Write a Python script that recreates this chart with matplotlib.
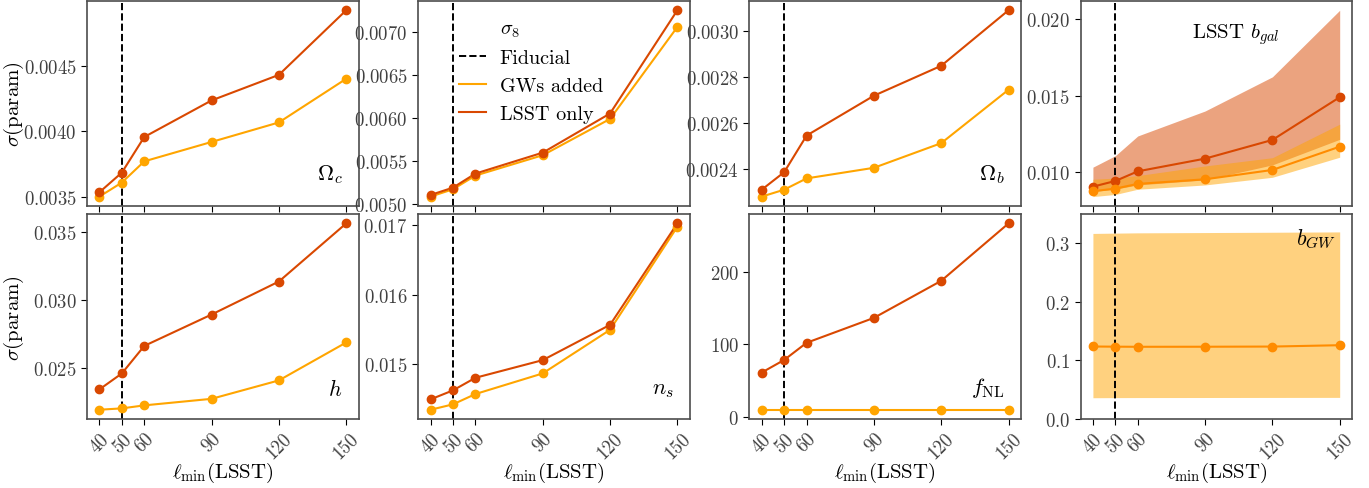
import numpy as np
import matplotlib
matplotlib.use("Agg")
import matplotlib.pyplot as plt

plt.rcParams['font.family'] = 'serif'
plt.rcParams['font.serif'] = ['cmr10']
plt.rcParams['mathtext.fontset'] = 'cm'
plt.rcParams['axes.formatter.use_mathtext'] = True

# l_min values of LSST
lmin = [40, 50, 60, 90, 120, 150]
xtick_labels = ['40', '50', '60', '90', '120', '150']
lfid = 50

# sigma(param)
omc_lsst = [0.003535, 0.003685, 0.003957, 0.004236, 0.004431, 0.004924]
omc_gw = [0.003502, 0.003609, 0.003771, 0.003919, 0.004068, 0.004401]
s8_lsst = [0.005104, 0.005189, 0.005352, 0.005595, 0.006049, 0.007247]
s8_gw = [0.005085, 0.005170, 0.005329, 0.005565, 0.005986, 0.007053]
omb_lsst = [0.002309, 0.002385, 0.002544, 0.002717, 0.002847, 0.003088]
omb_gw = [0.002279, 0.002309, 0.002358, 0.002404, 0.002511, 0.002743]
h_lsst = [0.02344, 0.02461, 0.02663, 0.02893, 0.03135, 0.03561]
h_gw = [0.02195, 0.02205, 0.02227, 0.02275, 0.02410, 0.02688]
ns_lsst = [0.014486, 0.014616, 0.014798, 0.015053, 0.015563, 0.017029]
ns_gw = [0.014336, 0.014414, 0.014563, 0.014861, 0.015491, 0.016981]
fnl_lsst = [60.9, 78.3, 102.0, 136.4, 187.6, 266.9]
fnl_gw = [9.5, 9.5, 9.5, 9.5, 9.5, 9.5]

# galaxy bias: line + band (min/max over bins)
bgal_lsst = [0.00906, 0.00943, 0.01006, 0.01089, 0.01211, 0.01490]
bgal_lsst_lo = [0.00874, 0.00890, 0.00917, 0.00950, 0.01048, 0.01215]
bgal_lsst_hi = [0.01033, 0.01108, 0.01237, 0.01400, 0.01623, 0.02058]
bgal_gw = [0.00876, 0.00893, 0.00924, 0.00954, 0.01015, 0.01167]
bgal_gw_lo = [0.00841, 0.00855, 0.00889, 0.00917, 0.00967, 0.01098]
bgal_gw_hi = [0.00954, 0.00962, 0.00978, 0.01041, 0.01095, 0.01314]

# GW bias
bgw = [0.1239, 0.1236, 0.1234, 0.1235, 0.1238, 0.1261]
bgw_lo = [0.0364, 0.0366, 0.0367, 0.0368, 0.0369, 0.0370]
bgw_hi = [0.3170, 0.3175, 0.3180, 0.3185, 0.3190, 0.3196]

c_lsst = '#d94801'
c_gw = '#ffa500'
c_gw2 = '#ff8c00'

fig, axes = plt.subplots(2, 4, figsize=(13.69, 4.89), dpi=100, sharex='col')
fig.subplots_adjust(left=0.0636, right=0.9876, top=0.996, bottom=0.141,
                    hspace=0.04, wspace=0.22)

panels = [(axes[0, 0], omc_lsst, omc_gw, r'$\Omega_c$'),
          (axes[0, 1], s8_lsst, s8_gw, None),
          (axes[0, 2], omb_lsst, omb_gw, r'$\Omega_b$'),
          (axes[1, 0], h_lsst, h_gw, r'$h$'),
          (axes[1, 1], ns_lsst, ns_gw, r'$n_s$'),
          (axes[1, 2], fnl_lsst, fnl_gw, r'$f_{\rm NL}$')]

for ax, yl, yg, name in panels:
    if name is None:
        ax.plot([], [], ' ', label=r'$\sigma_8$')
    ax.axvline(lfid, color='k', ls='--', lw=1.4, label='Fiducial')
    ax.plot(lmin, yg, color=c_gw, lw=1.5, label='GWs added')
    ax.plot(lmin, yl, color=c_lsst, lw=1.5, label='LSST only')
    ax.plot(lmin, yg, 'o', color=c_gw, ms=6)
    ax.plot(lmin, yl, 'o', color=c_lsst, ms=6)
    if name is None:
        ax.legend(loc='upper left', bbox_to_anchor=(0.085, 1.0), frameon=False,
                  fontsize=14.5, handlelength=1.3, handletextpad=0.7)
    else:
        ax.text(0.94, 0.1, name, transform=ax.transAxes, ha='right',
                va='bottom', fontsize=16)

# LSST b_gal
ax = axes[0, 3]
ax.axvline(lfid, color='k', ls='--', lw=1.4)
ax.fill_between(lmin, bgal_lsst_lo, bgal_lsst_hi, color=c_lsst, alpha=0.5, lw=0)
ax.fill_between(lmin, bgal_gw_lo, bgal_gw_hi, color=c_gw, alpha=0.5, lw=0)
ax.plot(lmin, bgal_lsst, 'o-', color=c_lsst, lw=1.5, ms=6)
ax.plot(lmin, bgal_gw, 'o-', color=c_gw2, lw=1.5, ms=6)
ax.set_yticks([0.010, 0.015, 0.020])
ax.text(0.57, 0.84, r'LSST $b_{gal}$', transform=ax.transAxes, ha='center',
        va='center', fontsize=15)

# b_GW
ax = axes[1, 3]
ax.axvline(lfid, color='k', ls='--', lw=1.4)
ax.fill_between(lmin, bgw_lo, bgw_hi, color=c_gw, alpha=0.5, lw=0)
ax.plot(lmin, bgw, 'o-', color=c_gw2, lw=1.5, ms=6)
ax.set_ylim(0, 0.35)
ax.text(0.94, 0.88, r'$b_{GW}$', transform=ax.transAxes, ha='right',
        va='center', fontsize=16)

for ax in axes.flat:
    ax.set_xticks(lmin)
    ax.tick_params(labelsize=13.5, labelcolor='0.25', length=4)
    for s in ax.spines.values():
        s.set_color('0.3')
        s.set_linewidth(1.2)

for ax in axes[1]:
    ax.set_xticklabels(xtick_labels, rotation=45)
    ax.set_xlabel(r'$\ell_{\rm min}$(LSST)', fontsize=15)
    ax.xaxis.set_label_coords(0.5, -0.2)

for ax in axes[:, 0]:
    ax.set_ylabel(r'$\sigma$(param)', fontsize=15)
    ax.yaxis.set_label_coords(-0.225, 0.5)

fig.savefig('out.png', dpi=100)
